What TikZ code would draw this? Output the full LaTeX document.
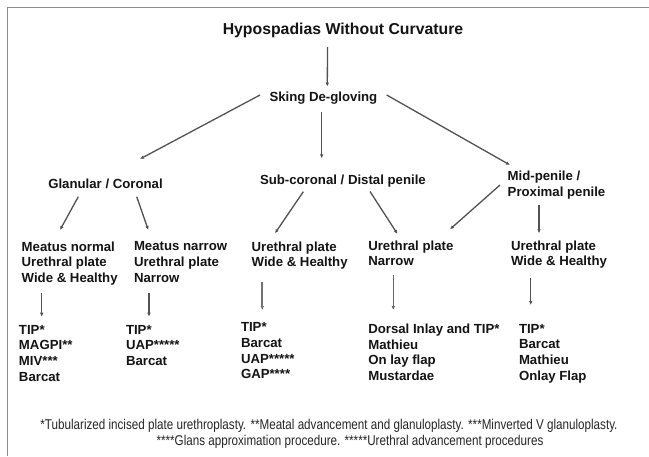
\documentclass[tikz,border=0pt]{standalone}
\usepackage{fontspec}
\setmainfont{Liberation Sans}
\newfontfamily\narrowfont[FakeStretch=0.82]{Liberation Sans}
\usetikzlibrary{arrows.meta,calc}
\begin{document}
\begin{tikzpicture}[x=1pt,y=-1pt,
  lbl/.style={font=\bfseries\fontsize{13.2}{15.7}\selectfont, inner sep=0pt, outer sep=0pt, align=left, anchor=north west, text=black!92},
  ttl/.style={font=\bfseries\fontsize{15.8}{19}\selectfont, inner sep=0pt, outer sep=0pt, anchor=north, text=black!92},
  fn/.style={font=\narrowfont\fontsize{14.2}{16}\selectfont, inner sep=0pt, outer sep=0pt, anchor=base, text=black!85},
  conn/.style={draw=black!68, line width=1.3pt, -{Latex[length=4pt,width=3.6pt]}},
  thick conn/.style={conn, line width=2pt},
  frame/.style={draw=black!45, line width=1.5pt}
]
\useasboundingbox (0,0) rectangle (649,456);
\fill[white] (0,0) rectangle (649,456);
\draw[frame] (7.5,456) -- (7.5,7.5) -- (649,7.5);

\node[ttl] (title) at (343,22.7) {Hypospadias Without Curvature};
\node[lbl] (skin) at (269.5,91.7) {Sking De-gloving};
\node[lbl] (glan) at (48.3,179.3) {Glanular / Coronal};
\node[lbl] (subc) at (260,175) {Sub-coronal / Distal penile};
\node[lbl, font=\bfseries\fontsize{13.2}{16}\selectfont] (mid) at (507.7,170.7) {Mid-penile /\\Proximal penile};

\node[lbl] (mn) at (21.7,241.7) {Meatus normal\\Urethral plate\\Wide \& Healthy};
\node[lbl] (mnar) at (134,241.7) {Meatus narrow\\Urethral plate\\Narrow};
\node[lbl] (sw) at (251.7,241.7) {Urethral plate\\Wide \& Healthy};
\node[lbl] (sn) at (368.3,240.7) {Urethral plate\\Narrow};
\node[lbl] (mw) at (511,240.7) {Urethral plate\\Wide \& Healthy};

\node[lbl] (t1) at (19,325) {TIP*\\MAGPI**\\MIV***\\Barcat};
\node[lbl] (t2) at (126,325) {TIP*\\UAP*****\\Barcat};
\node[lbl] (t3) at (241,322.7) {TIP*\\Barcat\\UAP*****\\GAP****};
\node[lbl] (t4) at (368.3,324) {Dorsal Inlay and TIP*\\Mathieu\\On lay flap\\Mustardae};
\node[lbl] (t5) at (519,324) {TIP*\\Barcat\\Mathieu\\Onlay Flap};

\node[fn] (fn1) at (329,429.5) {*Tubularized incised plate urethroplasty. **Meatal advancement and glanuloplasty. ***Minverted V glanuloplasty.};
\node[fn] (fn2) at (350,445) {****Glans approximation procedure. *****Urethral advancement procedures};

\draw[conn] ($(title.north)+(-15.5,24.3)$) -- ($(skin.north west)+(57.8,-5.2)$);
\draw[conn] ($(skin.north west)+(-9.5,3.3)$) -- ($(glan.north west)+(91.7,-20.3)$);
\draw[conn] ($(skin.north west)+(52.2,20)$) -- ($(subc.north west)+(61.7,-16.7)$);
\draw[conn] ($(skin.north west)+(117.2,3.3)$) -- ($(mid.north west)+(2.3,-5.7)$);
\draw[conn] ($(glan.north west)+(30,17.4)$) -- ($(mn.north west)+(38.3,-11.7)$);
\draw[conn] ($(glan.north west)+(88.4,17.4)$) -- ($(mnar.north west)+(14.3,-11.7)$);
\draw[conn] ($(subc.north west)+(43.3,16.7)$) -- ($(sw.north west)+(23.3,-8.4)$);
\draw[conn] ($(subc.north west)+(110,16.5)$) -- ($(sn.north west)+(29.2,-6.7)$);
\draw[conn] ($(mid.north west)+(-7.7,14.3)$) -- ($(sn.north west)+(81.7,-11.4)$);
\draw[thick conn] ($(mid.north west)+(31.3,34.3)$) -- ($(mw.north west)+(28,-7.4)$);
\draw[conn] ($(mn.north west)+(20,51.6)$) -- ($(t1.north west)+(22.7,-8.3)$);
\draw[conn] ($(mnar.north west)+(15,51.6)$) -- ($(t2.north west)+(23,-8.3)$);
\draw[thick conn, draw=black!55] ($(sw.north west)+(10.6,40)$) -- ($(t3.north west)+(21.3,-12.7)$);
\draw[conn, draw=black!60] ($(sn.north west)+(25,34.3)$) -- ($(t4.north west)+(25,-14)$);
\draw[conn] ($(mw.north west)+(19.7,37.3)$) -- ($(t5.north west)+(11.7,-19)$);
\end{tikzpicture}
\end{document}
